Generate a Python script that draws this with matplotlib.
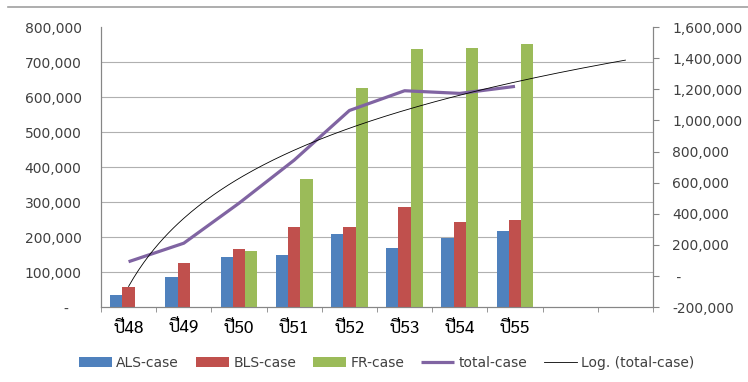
import numpy as np
import matplotlib
matplotlib.use("Agg")
import matplotlib.pyplot as plt
from matplotlib.lines import Line2D
from matplotlib.ticker import FuncFormatter

# data
years = ["ปี48", "ปี49", "ปี50", "ปี51", "ปี52", "ปี53", "ปี54", "ปี55"]
als_case = [34000, 86000, 142000, 149000, 210000, 169000, 197000, 217000]
bls_case = [58000, 125000, 165000, 230000, 228000, 285000, 242000, 250000]
fr_case = [np.nan, np.nan, 161000, 366000, 626000, 737000, 740000, 752000]
total_case = [92000, 211000, 468000, 745000, 1064000, 1191000, 1174000, 1219000]
n_slots = 10  # two empty slots on the right, trendline runs into them

blue = "#4F81BD"
red = "#C0504D"
green = "#9BBB59"
purple = "#8064A2"
grey = "#868686"
txt = "#404040"
thai = ["Sarabun", "Noto Sans Thai", "DejaVu Sans"]


def fmt(v, pos):
    if v == 0:
        return "-   "
    return "{:,.0f}".format(v)


def fmt_r(v, pos):
    if v == 0:
        return " -"
    return "{:,.0f}".format(v)


fig = plt.figure(figsize=(7.48, 3.82), dpi=100)
ax = fig.add_axes([0.135, 0.196, 0.738, 0.733])
ax2 = ax.twinx()

x = np.arange(1, len(years) + 1)
w = 0.222
ax.bar(x - w, als_case, w, color=blue, label="ALS-case", zorder=3)
ax.bar(x, bls_case, w, color=red, label="BLS-case", zorder=3)
ax.bar(x + w, fr_case, w, color=green, label="FR-case", zorder=3)

ax2.plot(x, total_case, color=purple, lw=2.3, solid_capstyle="butt", label="total-case", zorder=4)

# Excel style log trendline, forecast forward 2 periods
a, b = np.polyfit(np.log(x), total_case, 1)
xt = np.linspace(1, n_slots, 200)
ax2.plot(xt, a * np.log(xt) + b, color="black", lw=0.6, label="Log. (total-case)", zorder=5)

ax.set_xlim(0.5, n_slots + 0.5)
ax.set_ylim(0, 800000)
ax2.set_ylim(-200000, 1600000)
ax.set_yticks(np.arange(0, 800001, 100000))
ax2.set_yticks(np.arange(-200000, 1600001, 200000))
ax.yaxis.set_major_formatter(FuncFormatter(fmt))
ax2.yaxis.set_major_formatter(FuncFormatter(fmt_r))

ax.set_xticks(x)
ax.set_xticklabels(years, family=thai, fontsize=12.5, color="black")
ax.set_xticks(np.arange(0.5, n_slots + 1), minor=True)
ax.tick_params(axis="x", which="major", length=0, pad=9)
ax.tick_params(axis="x", which="minor", length=3.5, color=grey)
ax.tick_params(axis="y", length=0, pad=14, labelsize=10, labelcolor=txt)
ax2.tick_params(axis="y", length=4, color=grey, pad=10, labelsize=10, labelcolor=txt)

for g in range(100000, 800000, 100000):
    ax.axhline(g, color="#b0b0b0", lw=0.8, zorder=1)

for s in ["top"]:
    ax.spines[s].set_visible(False)
    ax2.spines[s].set_visible(False)
for s in ["left", "bottom", "right"]:
    ax.spines[s].set_color(grey)
    ax2.spines[s].set_color(grey)
ax.set_zorder(ax2.get_zorder() - 1)
ax.patch.set_visible(False)
ax2.patch.set_visible(False)

fig.add_artist(Line2D([0.011, 1.0], [0.982, 0.982], color="#a0a0a0", lw=1.2))

h1, l1 = ax.get_legend_handles_labels()
h2, l2 = ax2.get_legend_handles_labels()
fig.legend(h1 + h2, l1 + l2, loc="center", bbox_to_anchor=(0.517, 0.05), ncol=5,
           frameon=False, fontsize=10, handlelength=2.4, handleheight=0.7,
           columnspacing=1.2, handletextpad=0.3, labelcolor=txt)

fig.savefig("out.png", dpi=100)
